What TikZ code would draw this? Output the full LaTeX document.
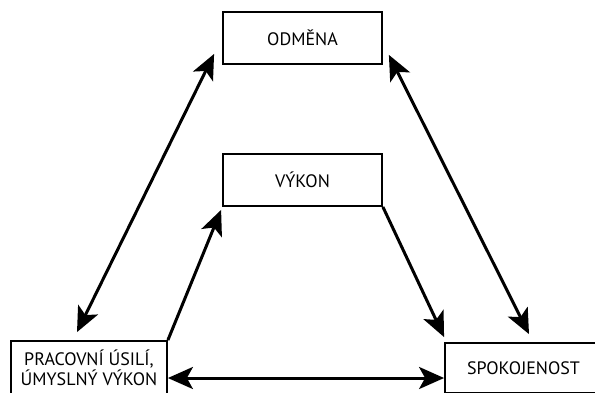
\documentclass[tikz,border=0pt]{standalone}
\usepackage{fontspec}
\setmainfont{PT Sans}
\usetikzlibrary{arrows.meta}
\tikzset{
  box/.style={draw, line width=1.8pt, minimum width=159pt, minimum height=52pt, inner sep=0pt, align=center, font=\fontsize{18}{20.5}\selectfont},
  conn/.style={line width=3pt, -{Stealth[length=25pt,width=22pt,inset=6pt]}},
  dconn/.style={line width=3pt, {Stealth[length=25pt,width=22pt,inset=6pt]}-{Stealth[length=25pt,width=22pt,inset=6pt]}}
}
\begin{document}
\begin{tikzpicture}[x=1pt,y=-1pt]
\useasboundingbox (0,0) rectangle (595,392);
\node[box] (odm) at (302.5,38) {ODMĚNA};
\node[box] (vyk) at (302.5,180) {VÝKON};
\node[box, minimum width=156pt, minimum height=54pt] (left) at (89,368) {PRACOVNÍ ÚSILÍ,\\ÚMYSLNÝ VÝKON};
\node[box, minimum width=157pt, minimum height=50pt] (right) at (523.5,368) {SPOKOJENOST};
\draw[dconn] ([shift={(-12,-8)}]left.north) -- ([shift={(-8,-11)}]odm.south west);
\draw[dconn] ([shift={(6,-10)}]odm.south east) -- ([shift={(5.5,-8)}]right.north);
\draw[conn] (left.north east) -- ([shift={(-1,3)}]vyk.south west);
\draw[conn] (vyk.south east) -- ([shift={(0,-5)}]right.north west);
\draw[dconn] ([shift={(0,10)}]left.east) -- ([shift={(0,10)}]right.west);
\end{tikzpicture}
\end{document}
